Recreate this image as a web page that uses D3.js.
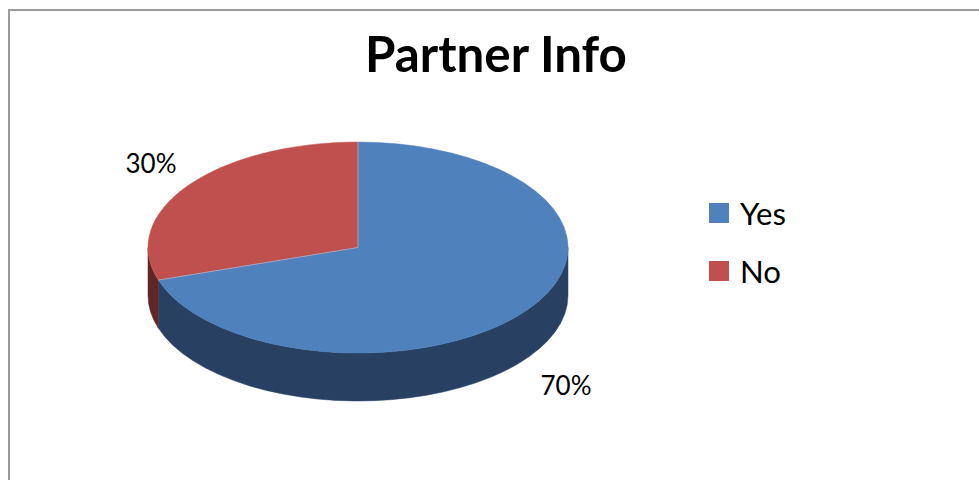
<!DOCTYPE html>
<html>
<head>
<meta charset="utf-8">
<script src="https://cdn.jsdelivr.net/npm/d3@7"></script>
<style>
  body { margin: 0; background: #fff; }
  svg { display: block; font-family: Lato, "Open Sans", sans-serif; }
</style>
</head>
<body>
<svg id="chart" width="979" height="480"></svg>
<script>
// chart data
const categories = ['Yes', 'No'];
const values = [70, 30];
const labels = ['70%', '30%'];
const topColors = ['#4f81bd', '#c0504d'];
const sideColors = ['#284162', '#5e2624'];

const svg = d3.select('#chart');

// chart frame (runs off the right and bottom edge)
svg.append('rect')
    .attr('x', 9).attr('y', 10)
    .attr('width', 1000).attr('height', 500)
    .attr('fill', 'none')
    .attr('stroke', '#9a9a9a')
    .attr('stroke-width', 2);

// fit a text element to a target width
function fitWidth(sel, w) {
    let len = sel.node().getComputedTextLength();
    let fs = parseFloat(sel.attr('font-size'));
    sel.attr('font-size', fs * w / len);
}

let title = svg.append('text')
    .attr('x', 496).attr('y', 72)
    .attr('text-anchor', 'middle')
    .attr('font-weight', 'bold')
    .attr('font-size', 40)
    .text('Partner Info');
fitWidth(title, 262);

// 3D pie geometry
const cx = 358, cy = 247.5, rx = 210, ry = 105.5, depth = 48;

function pt(a, dy) {
    return [cx + rx * Math.sin(a), cy - ry * Math.cos(a) + (dy || 0)];
}

const pie = d3.pie().sort(null).value(d => d);
const arcs = pie(values);

// side walls: only the front half (angles pi/2 .. 3pi/2) shows
let sides = svg.append('g');
arcs.forEach(function(d, i) {
    let s = Math.max(d.startAngle, Math.PI / 2);
    let e = Math.min(d.endAngle, Math.PI * 3 / 2);
    if (e <= s) return;
    let p0 = pt(s), p1 = pt(e), p2 = pt(e, depth), p3 = pt(s, depth);
    let large = (e - s) > Math.PI ? 1 : 0;
    let path = 'M' + p0 + ' A' + rx + ',' + ry + ' 0 ' + large + ' 1 ' + p1 +
        ' L' + p2 + ' A' + rx + ',' + ry + ' 0 ' + large + ' 0 ' + p3 + ' Z';
    sides.append('path')
        .attr('d', path)
        .attr('fill', sideColors[i])
        .attr('stroke', sideColors[i])
        .attr('stroke-width', 0.5);
});

// top faces
let tops = svg.append('g');
arcs.forEach(function(d, i) {
    let p0 = pt(d.startAngle), p1 = pt(d.endAngle);
    let large = (d.endAngle - d.startAngle) > Math.PI ? 1 : 0;
    let path = 'M' + cx + ',' + cy + ' L' + p0 +
        ' A' + rx + ',' + ry + ' 0 ' + large + ' 1 ' + p1 + ' Z';
    tops.append('path')
        .attr('d', path)
        .attr('fill', topColors[i])
        .attr('stroke', topColors[i])
        .attr('stroke-width', 0.5);
});
// thin light seam between the slices
arcs.forEach(function(d) {
    let p = pt(d.startAngle);
    tops.append('line')
        .attr('x1', cx).attr('y1', cy)
        .attr('x2', p[0]).attr('y2', p[1])
        .attr('stroke', '#9fb6d8')
        .attr('stroke-width', 0.8);
});

// data labels outside the pie
const labelPos = [[566, 395], [151, 173]];
arcs.forEach(function(d, i) {
    let t = svg.append('text')
        .attr('x', labelPos[i][0]).attr('y', labelPos[i][1])
        .attr('text-anchor', 'middle')
        .attr('font-size', 26)
        .attr('fill', '#000')
        .text(labels[i]);
    fitWidth(t, 51);
});

// legend
let legend = svg.append('g').attr('transform', 'translate(709,203)');
categories.forEach(function(c, i) {
    let g = legend.append('g').attr('transform', 'translate(0,' + (i * 58) + ')');
    g.append('rect')
        .attr('width', 20).attr('height', 20)
        .attr('fill', topColors[i]);
    let t = g.append('text')
        .attr('x', 31).attr('y', 22)
        .attr('font-size', 26)
        .text(c);
    if (i === 0) fitWidth(t, 46);
    else t.attr('font-size', legend.select('text').attr('font-size'));
});
</script>
</body>
</html>
